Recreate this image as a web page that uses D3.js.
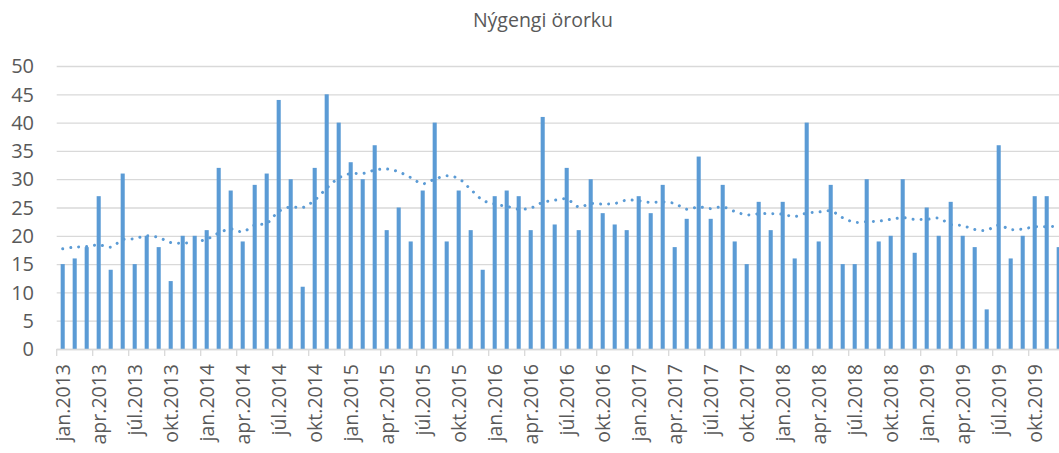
<!DOCTYPE html>
<html>
<head>
<meta charset="utf-8">
<script src="https://cdn.jsdelivr.net/npm/d3@7"></script>
<style>
  html, body { margin: 0; padding: 0; background: #fff; }
  svg { display: block; font-family: "Open Sans", "Liberation Sans", sans-serif; }
</style>
</head>
<body>
<svg id="chart" width="1059" height="453"></svg>
<script>
const title = "Nýgengi örorku";
const years = [2013, 2014, 2015, 2016, 2017, 2018, 2019];
const monthNames = ["jan", "feb", "mar", "apr", "maí", "jún", "júl", "ágú", "sep", "okt", "nóv", "des"];
const values = [
  15, 16, 18, 27, 14, 31, 15, 20, 18, 12, 20, 20,
  21, 32, 28, 19, 29, 31, 44, 30, 11, 32, 45, 40,
  33, 30, 36, 21, 25, 19, 28, 40, 19, 28, 21, 14,
  27, 28, 27, 21, 41, 22, 32, 21, 30, 24, 22, 21,
  27, 24, 29, 18, 23, 34, 23, 29, 19, 15, 26, 21,
  26, 16, 40, 19, 29, 15, 15, 30, 19, 20, 30, 17,
  25, 20, 26, 20, 18, 7, 36, 16, 20, 27, 27, 18
];
const trend = [
  17.7, 18.0, 18.1, 18.4, 18.0, 19.3, 19.5, 20.0, 19.7, 18.8, 18.7, 18.9,
  19.4, 20.5, 21.2, 20.7, 21.9, 22.2, 24.3, 25.1, 25.0, 26.3, 28.4, 30.2,
  31.0, 31.0, 31.6, 31.8, 31.3, 30.3, 29.2, 30.0, 30.6, 30.1, 28.2, 26.3,
  25.6, 25.2, 24.7, 24.9, 25.9, 26.3, 26.5, 25.1, 25.7, 25.6, 25.7, 26.3,
  26.2, 25.9, 26.0, 25.7, 24.7, 25.1, 24.8, 25.1, 24.3, 23.7, 23.9, 23.9,
  23.8, 23.4, 24.0, 24.2, 24.4, 23.2, 22.4, 22.5, 22.6, 22.9, 23.2, 22.9,
  22.9, 23.1, 22.0, 21.8, 21.1, 21.0, 21.9, 21.1, 21.2, 21.6, 21.6, 21.7
];
const yTicks = [0, 5, 10, 15, 20, 25, 30, 35, 40, 45, 50];
const tickLabels = [];
years.forEach(y => ["jan", "apr", "júl", "okt"].forEach(m => tickLabels.push(m + "." + y)));

const categories = [];
years.forEach(y => monthNames.forEach(m => categories.push(m + "." + y)));

const svg = d3.select("#chart");
const plotLeft = 56.7, plotRight = 56.7 + 12 * categories.length;
const plotTop = 66, plotBottom = 349;

const x = d3.scaleBand().domain(categories).range([plotLeft, plotRight])
  .paddingInner(0.66).paddingOuter(0.33);
const y = d3.scaleLinear().domain([0, 50]).range([plotBottom, plotTop]);

const textColor = "#595959", gridColor = "#D9D9D9", barColor = "#5B9BD5";

// title
svg.append("text").attr("x", 543).attr("y", 27).attr("text-anchor", "middle")
  .attr("font-size", 19.5).attr("fill", textColor).text(title);

// gridlines
const grid = svg.append("g").attr("transform", `translate(${plotLeft},0)`)
  .call(d3.axisLeft(y).tickValues(yTicks).tickSize(-(plotRight - plotLeft)).tickFormat(""));
grid.select(".domain").remove();
grid.selectAll("line").attr("stroke", gridColor).attr("stroke-width", 1.3);

// y labels
svg.append("g").selectAll("text").data(yTicks).join("text")
  .attr("x", 34).attr("y", d => y(d)).attr("dy", "0.36em")
  .attr("text-anchor", "end").attr("font-size", 20).attr("fill", textColor)
  .text(d => d);

// bars
svg.append("g").selectAll("rect").data(values).join("rect")
  .attr("x", (d, i) => x(categories[i]))
  .attr("width", x.bandwidth())
  .attr("y", d => y(d))
  .attr("height", d => y(0) - y(d))
  .attr("fill", barColor);

// x axis line and ticks at quarter boundaries
const step = x.step();
svg.append("line").attr("x1", plotLeft).attr("x2", plotRight).attr("y1", plotBottom + 0.5).attr("y2", plotBottom + 0.5)
  .attr("stroke", gridColor).attr("stroke-width", 1.3);
const quarterIdx = d3.range(0, categories.length + 1, 3);
svg.append("g").selectAll("line").data(quarterIdx).join("line")
  .attr("x1", i => plotLeft + i * step).attr("x2", i => plotLeft + i * step)
  .attr("y1", plotBottom).attr("y2", plotBottom + 7)
  .attr("stroke", gridColor).attr("stroke-width", 1.3);

// x labels
svg.append("g").selectAll("text").data(tickLabels).join("text")
  .attr("transform", (d, i) => `translate(${x(categories[i * 3]) + x.bandwidth() / 2},364) rotate(-90)`)
  .attr("dy", "0.36em").attr("text-anchor", "end")
  .attr("font-size", 19.5).attr("fill", textColor).text(d => d);

// trend (dotted)
const line = d3.line()
  .x((d, i) => x(categories[i]) + x.bandwidth() / 2)
  .y(d => y(d))
  .curve(d3.curveCatmullRom.alpha(0.5));
svg.append("path").datum(trend).attr("d", line)
  .attr("fill", "none").attr("stroke", barColor).attr("stroke-width", 3)
  .attr("stroke-linecap", "round").attr("stroke-dasharray", "0.01 8");
</script>
</body>
</html>
